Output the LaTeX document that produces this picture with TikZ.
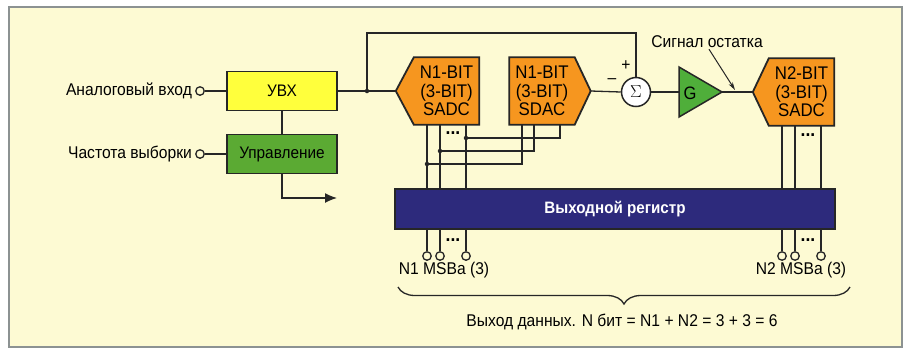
\documentclass[tikz,border=0pt]{standalone}
\usepackage{fontspec}
\setmainfont[FakeStretch=0.92]{Liberation Sans}
\usetikzlibrary{positioning,arrows.meta,decorations.pathreplacing,backgrounds}
\definecolor{paper}{HTML}{FDFAD3}
\definecolor{framegray}{HTML}{8C9292}
\definecolor{wirecol}{HTML}{262626}
\definecolor{shyellow}{HTML}{FFFF3C}
\definecolor{ctlgreen}{HTML}{5BAA33}
\definecolor{ampgreen}{HTML}{4FAE3A}
\definecolor{adcorange}{HTML}{F6961F}
\definecolor{regblue}{HTML}{2D2A7C}
\pgfdeclarelayer{back}
\pgfsetlayers{back,background,main}
\tikzset{
  wire/.style={draw=wirecol, line width=1.3pt},
  box/.style={draw=wirecol, line width=1.8pt, minimum width=110pt, minimum height=39pt,
    inner sep=0pt, font=\fontsize{16.7}{18}\selectfont},
  conv/.style={minimum width=65pt, minimum height=67pt, inner sep=0pt, align=center,
    font=\fontsize{18.3}{18.5}\selectfont},
  convshape/.style={draw=wirecol, line width=1.8pt, fill=adcorange, line join=miter},
  term/.style={circle, draw=wirecol, line width=1.3pt, fill=paper, inner sep=0pt, minimum size=8.5pt},
  jdot/.style={circle, fill=wirecol, inner sep=0pt, minimum size=4.5pt},
  lbl/.style={font=\fontsize{17}{19}\selectfont, inner sep=1pt},
  dots/.style={font=\fontsize{19}{19}\selectfont\bfseries, inner sep=0pt,
    text height=3pt, text depth=0pt},
}

\begin{document}
\begin{tikzpicture}[x=1pt,y=-1pt]
  \useasboundingbox (0,0) rectangle (906,349);

  % frame
  \begin{pgfonlayer}{back}
    \draw[framegray, fill=paper, line width=1.5pt] (9,7) rectangle (902,347);
  \end{pgfonlayer}

  % sample-hold and control
  \node[box, fill=shyellow] (uvx) at (282,91) {УВХ};
  \node[box, fill=ctlgreen] (ctrl) at (282,154) {Управление};
  \node[term] (ain) at (200,91) {};
  \node[term] (fsin) at (200,154) {};
  \node[lbl, left=2pt of ain] (ainlbl) {Аналоговый вход};
  \node[lbl, left=2pt of fsin] (fslbl) {Частота выборки};
  \draw[wire] (ain) -- (uvx.west);
  \draw[wire] (fsin) -- (ctrl.west);
  \draw[wire] (uvx.south) -- (ctrl.north);
  \coordinate (ctlout) at (337,198);
  \draw[wire, -{Latex[length=12pt,width=10pt]}] (ctrl.south) |- (ctlout);

  % converters
  \node[conv] (adc1) at (446.5,91) {N1-BIT\\(3-BIT)\\SADC};
  \node[conv] (dac) at (542,91) {N1-BIT\\(3-BIT)\\SDAC};
  \node[conv] (adc2) at (801.5,92) {N2-BIT\\(3-BIT)\\SADC};
  \coordinate (adc1tip) at ([xshift=-18pt]adc1.west);
  \coordinate (dactip) at ([xshift=16pt]dac.east);
  \coordinate (adc2tip) at ([xshift=-16pt]adc2.west);
  \begin{pgfonlayer}{background}
    \draw[convshape] (adc1.north west) -- (adc1.north east) -- (adc1.south east)
      -- (adc1.south west) -- (adc1tip) -- cycle;
    \draw[convshape] (dac.north west) -- (dac.north east) -- (dactip)
      -- (dac.south east) -- (dac.south west) -- cycle;
    \draw[convshape] (adc2.north west) -- (adc2.north east) -- (adc2.south east)
      -- (adc2.south west) -- (adc2tip) -- cycle;
  \end{pgfonlayer}

  % summing node and gain
  \node[circle, draw=wirecol, line width=1.5pt, fill=white, minimum size=29pt,
    inner sep=0pt, font=\fontsize{18}{18}\selectfont] (sum) at (636,92) {$\Sigma$};
  \node[lbl] (plus) at (626,66) {+};
  \node[lbl] (minus) at (612,81) {\textendash};
  \coordinate (gin) at (679,92);
  \coordinate (gout) at (722,92);
  \draw[wirecol, line width=1.5pt, fill=ampgreen, line join=miter]
    (679,67) -- (gout) -- (679,117) -- cycle;
  \node[lbl, font=\fontsize{18}{18}\selectfont] (amp) at (690,93) {G};

  % signal path
  \node[jdot] (jA) at (367,91) {};
  \coordinate (ftop) at (636,33);
  \draw[wire] (uvx.east) -- (jA) -- (adc1tip);
  \draw[wire] (jA) |- (ftop) -- (sum.north);
  \draw[wire] (dactip) -- (sum.west);
  \draw[wire] (sum.east) -- (gin);
  \draw[wire] (gout) -- (adc2tip);
  \node[lbl] (rest) at (707,42) {Сигнал остатка};
  \coordinate (restpt) at (735,90);
  \draw[wire, line width=1pt, -{Stealth[length=8pt,width=4.5pt]}] ([xshift=2pt]rest.south) -- (restpt);

  % N1 outputs
  \node[term] (o1a) at (427,256) {};
  \node[term] (o1b) at (440,256) {};
  \node[term] (o1c) at (466,256) {};
  \foreach \t in {o1a,o1b,o1c}
    \draw[wire] (\t.north) -- (\t |- adc1.south);
  \node[jdot] (j1) at (427,164) {};
  \node[jdot] (j2) at (440,151) {};
  \node[jdot] (j3) at (466,138) {};
  \draw[wire] (j1) -| ([xshift=-20pt]dac.south);
  \draw[wire] (j2) -| ([xshift=-8pt]dac.south);
  \draw[wire] (j3) -| ([xshift=18pt]dac.south);
  \node[dots] (dots1) at (453,133) {...};
  \node[dots] (dots2) at (453,240) {...};

  % N2 outputs
  \node[term] (o2a) at (782,256) {};
  \node[term] (o2b) at (795,256) {};
  \node[term] (o2c) at (821,256) {};
  \foreach \t in {o2a,o2b,o2c}
    \draw[wire] (\t.north) -- (\t |- adc2.south);
  \node[dots] (dots3) at (808,135) {...};
  \node[dots] (dots4) at (808,240) {...};

  % output register
  \node[draw=wirecol, line width=1.6pt, fill=regblue, minimum width=440pt, minimum height=40pt,
    text=white, font=\fontsize{16.5}{18}\selectfont\bfseries] (reg) at (615,209) {Выходной регистр};

  % data out
  \node[lbl] (msb1) at (444,270) {N1 MSBa (3)};
  \node[lbl] (msb2) at (801,270) {N2 MSBa (3)};
  \coordinate (brl) at (398,287);
  \coordinate (brr) at (850,287);
  \draw[wire, decorate, decoration={brace, mirror, amplitude=17pt}] (brl) -- (brr);
  \node[lbl] (dout) at (622,322) {Выход данных. N бит = N1 + N2 = 3 + 3 = 6};
\end{tikzpicture}
\end{document}
